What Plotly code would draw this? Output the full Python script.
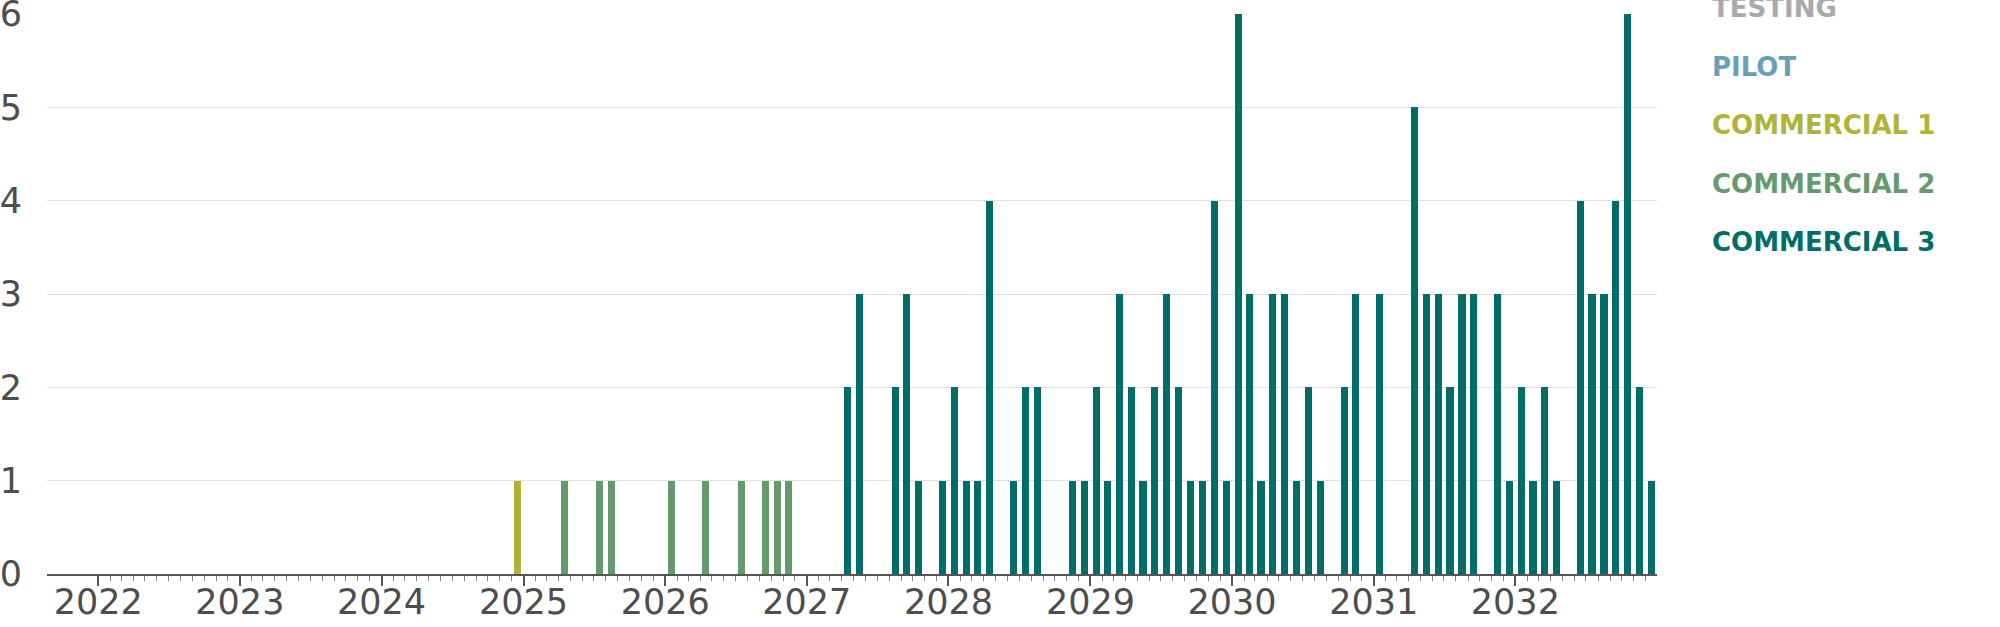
import plotly.graph_objects as go

# series names / colours (legend order top to bottom)
series_names = ["TESTING", "PILOT", "COMMERCIAL 1", "COMMERCIAL 2", "COMMERCIAL 3"]
series_colors = ["#a7a9ac", "#6a9fb8", "#b0b436", "#659a6f", "#006d66"]

# monthly counts per stage (months with no bars are omitted)
testing_months = []
testing_counts = []

pilot_months = []
pilot_counts = []

comm1_months = ["2024-12"]
comm1_counts = [1]

comm2_months = ["2025-04", "2025-07", "2025-08", "2026-01", "2026-04",
                "2026-07", "2026-09", "2026-10", "2026-11"]
comm2_counts = [1, 1, 1, 1, 1, 1, 1, 1, 1]

comm3_months = ["2027-04", "2027-05", "2027-08", "2027-09", "2027-10", "2027-12",
                "2028-01", "2028-02", "2028-03", "2028-04", "2028-06", "2028-07",
                "2028-08", "2028-11", "2028-12",
                "2029-01", "2029-02", "2029-03", "2029-04", "2029-05", "2029-06",
                "2029-07", "2029-08", "2029-09", "2029-10", "2029-11", "2029-12",
                "2030-01", "2030-02", "2030-03", "2030-04", "2030-05", "2030-06",
                "2030-07", "2030-08", "2030-10", "2030-11",
                "2031-01", "2031-04", "2031-05", "2031-06", "2031-07", "2031-08",
                "2031-09", "2031-11", "2031-12",
                "2032-01", "2032-02", "2032-03", "2032-04", "2032-06", "2032-07",
                "2032-08", "2032-09", "2032-10", "2032-11", "2032-12"]
comm3_counts = [2, 3, 2, 3, 1, 1,
                2, 1, 1, 4, 1, 2,
                2, 1, 1,
                2, 1, 3, 2, 1, 2,
                3, 2, 1, 1, 4, 1,
                6, 3, 1, 3, 3, 1,
                2, 1, 2, 3,
                3, 5, 3, 3, 2, 3,
                3, 3, 1,
                2, 1, 2, 1, 4, 3,
                3, 4, 6, 2, 1]

all_months = [testing_months, pilot_months, comm1_months, comm2_months, comm3_months]
all_counts = [testing_counts, pilot_counts, comm1_counts, comm2_counts, comm3_counts]

tick_font = dict(family="DejaVu Sans", size=35, color="#4d4d4d")
bar_width = 0.6 * 30.44 * 24 * 3600 * 1000  # ms, ~60% of a month

# monthly minor ticks only from 2022 on (none before the first year tick)
minor_ticks = ["%d-%02d-01" % (y, m) for y in range(2022, 2033) for m in range(1, 13)]

fig = go.Figure()
for name, color, months, counts in zip(series_names, series_colors, all_months, all_counts):
    if not months:
        continue
    fig.add_trace(go.Bar(
        x=months, y=counts, name=name,
        xperiod="M1", xperiodalignment="middle",
        width=bar_width,
        marker=dict(color=color, line=dict(width=0)),
        showlegend=False,
    ))

# legend drawn as coloured text labels
for i, (name, color) in enumerate(zip(series_names, series_colors)):
    fig.add_annotation(
        xref="paper", yref="paper", x=1.033, y=1.01 - i * 0.1045,
        xanchor="left", yanchor="middle", showarrow=False,
        text="<b>" + name + "</b>",
        font=dict(family="DejaVu Sans", size=26, color=color),
    )

fig.update_layout(
    width=2000, height=627,
    margin=dict(l=47, r=343, t=14, b=53, autoexpand=False),
    plot_bgcolor="white", paper_bgcolor="white",
    barmode="stack",
    showlegend=False,
    xaxis=dict(
        type="date",
        range=["2021-08-22", "2032-12-31"],
        tick0="2022-01-01", dtick="M12", tickformat="%Y",
        ticks="outside", ticklen=10, tickwidth=2, tickcolor="#555555",
        minor=dict(tickmode="array", tickvals=minor_ticks, ticks="outside",
                   ticklen=5, tickwidth=1, tickcolor="#888888"),
        showline=True, linecolor="#555555", linewidth=2,
        showgrid=False,
        automargin=False,
        ticklabelstandoff=-14,
        tickfont=tick_font,
    ),
    yaxis=dict(
        range=[0, 6], dtick=1,
        showgrid=True, gridcolor="#e0e0e0", gridwidth=1,
        zeroline=False, showline=False, ticks="",
        ticklabelstandoff=24,
        ticklabeloverflow="allow",
        automargin=False,
        tickfont=tick_font,
    ),
)

# drop the default page margin so the figure fills the window exactly
fig.write_html("out.html", config={"displayModeBar": False},
               post_script="document.body.style.margin='0';")
